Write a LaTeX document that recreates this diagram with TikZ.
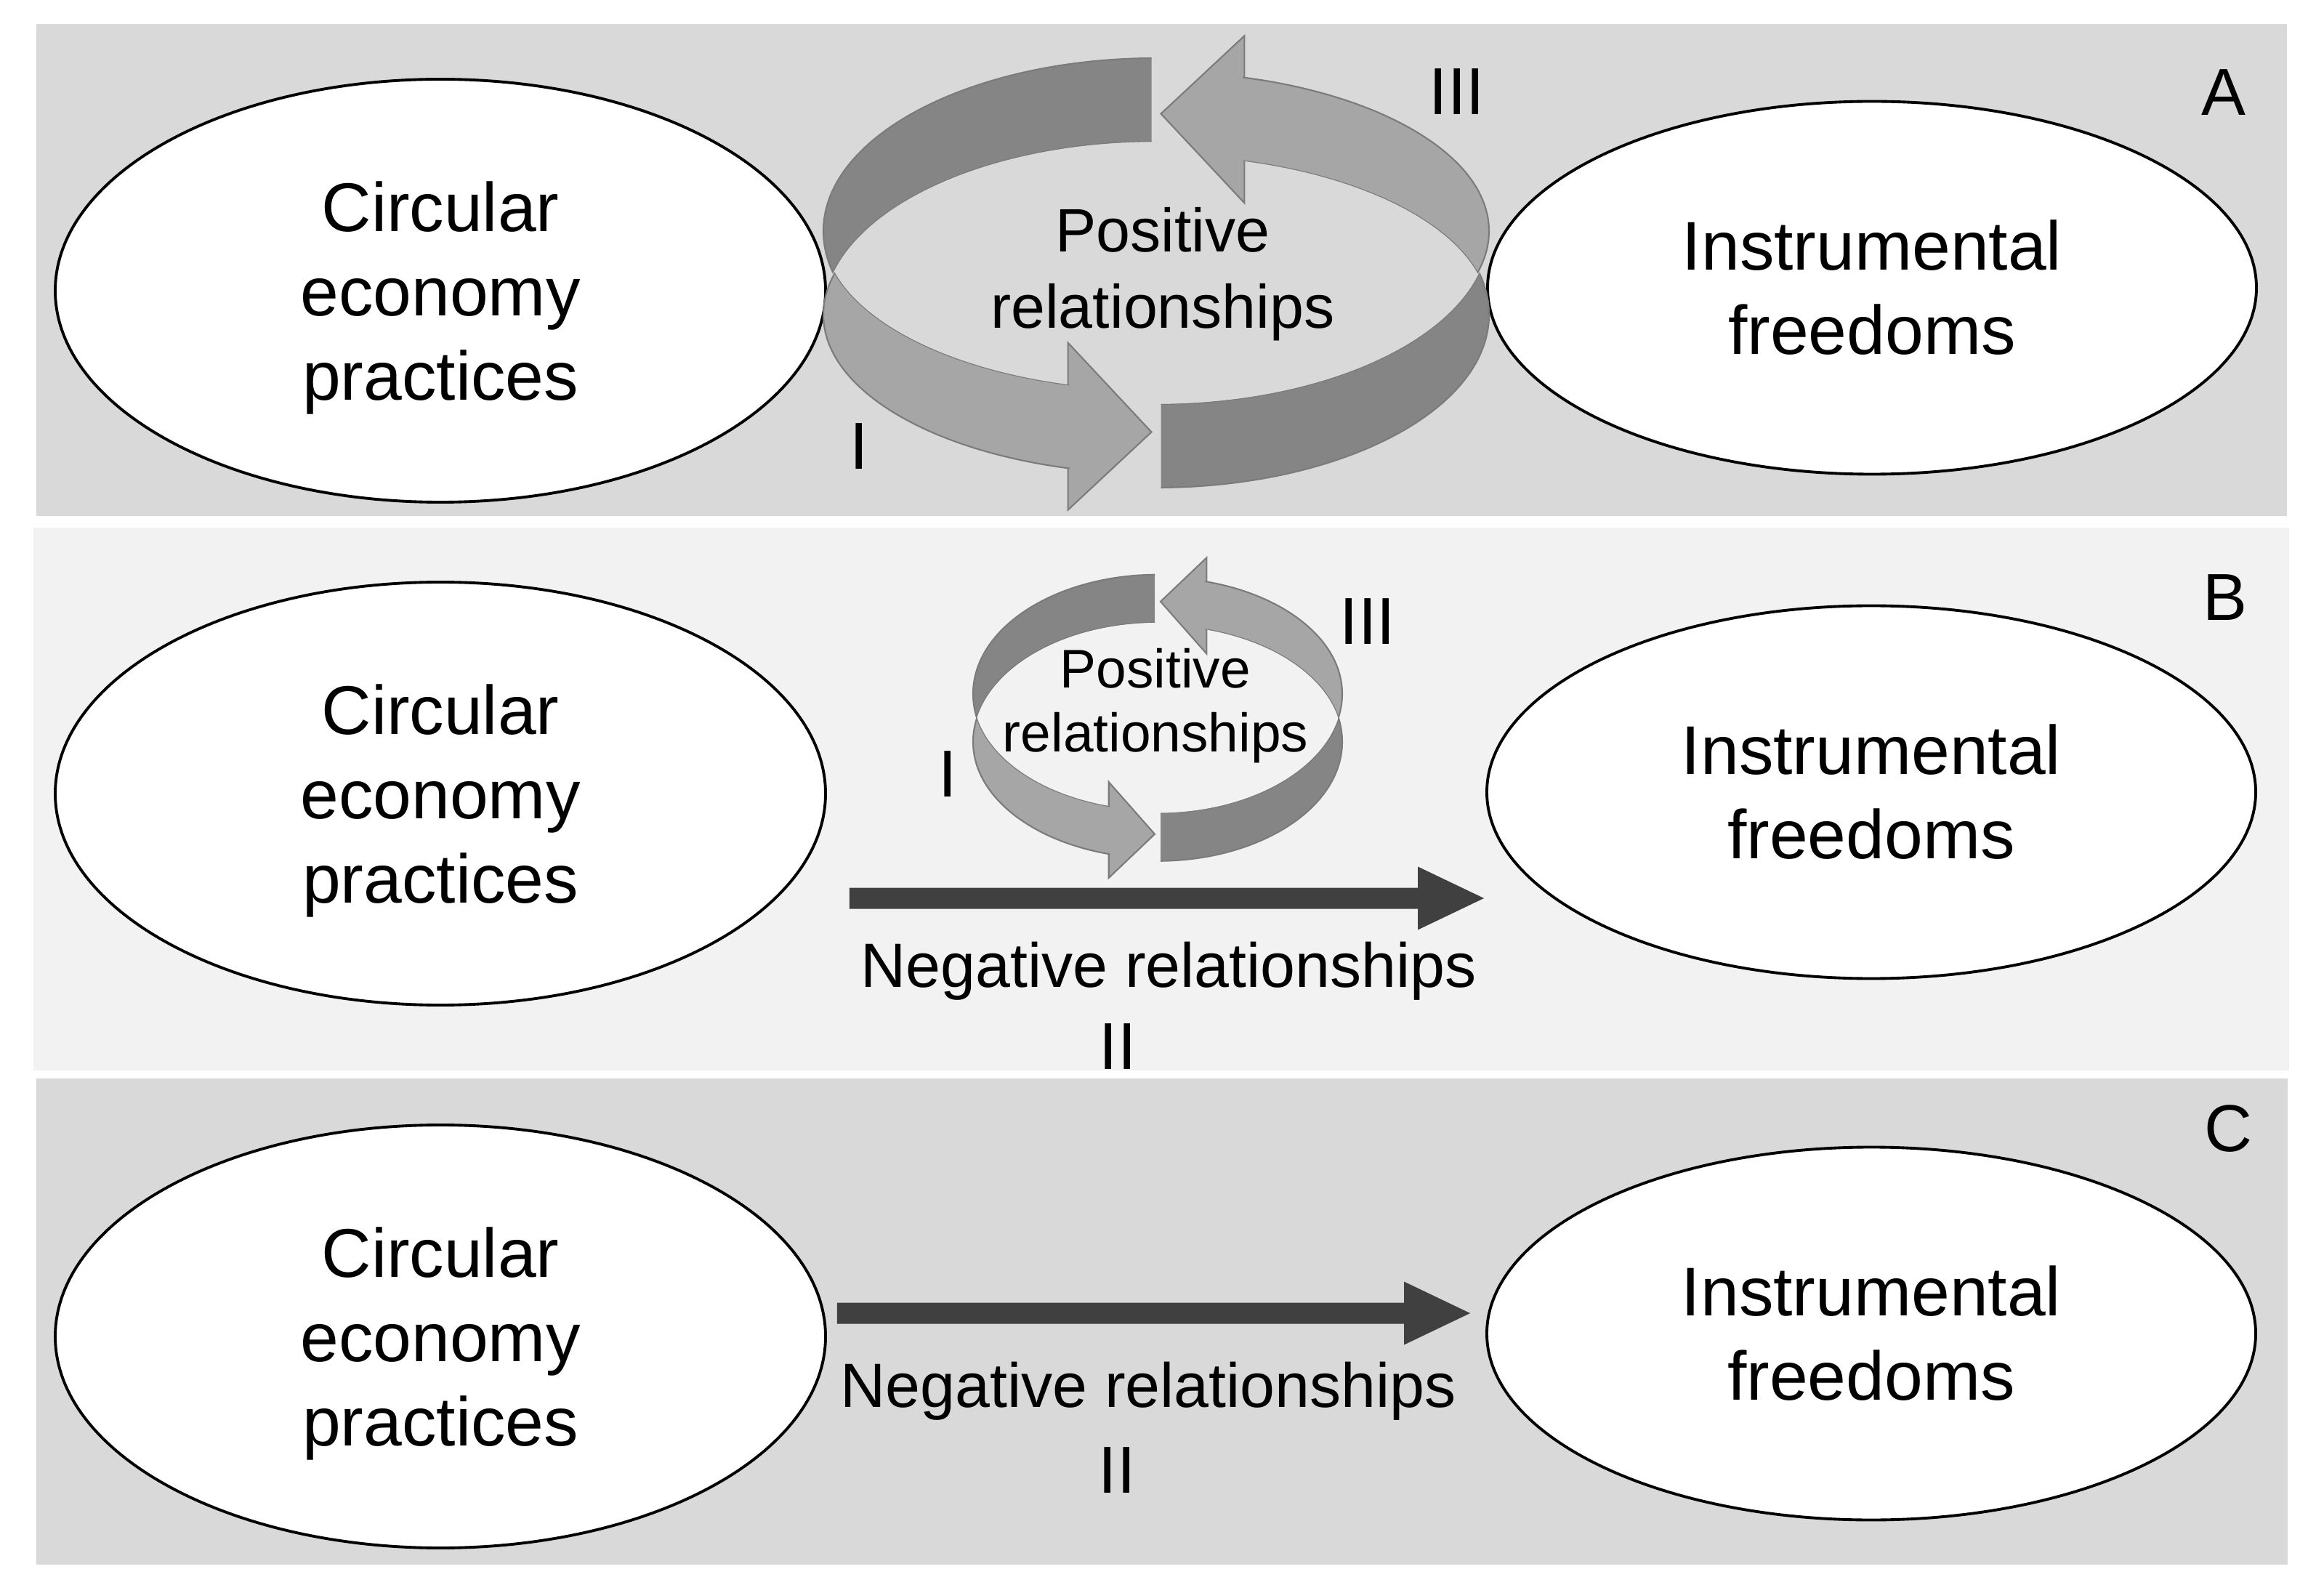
\documentclass[tikz,border=0pt]{standalone}
\usepackage{fontspec}
\setmainfont{Liberation Sans}
\usetikzlibrary{arrows.meta,shapes.geometric}
\definecolor{PanelGray}{HTML}{D9D9D9}
\definecolor{PanelLight}{HTML}{F2F2F2}
\definecolor{LoopDark}{HTML}{858585}
\definecolor{LoopLight}{HTML}{A6A6A6}
\definecolor{LoopEdge}{HTML}{7B7B7B}
\definecolor{NegGray}{HTML}{404040}
\tikzset{
  loopdarkband/.style={fill=LoopDark,draw=LoopEdge,line width=0.6pt},
  looplightband/.style={fill=LoopLight,draw=LoopEdge,line width=0.6pt},
  loopedge/.style={draw=LoopEdge,line width=0.6pt}
}
% ribbon loop: #1 x radius, #2 y radius at the tails, #3 y radius at the heads,
% #4 half height of the ribbon, #5 half gap between the two arrows
\newcommand{\posloop}[5]{%
  \pgfmathsetmacro{\lpbx}{0.265*#1}%
  \pgfmathsetmacro{\lpby}{0.9642*#3}%
  \pgfmathsetmacro{\lphw}{2*#4}%
  \begin{scope}[even odd rule]
    \clip (-#1-0.2,-5) rectangle (-#5,5);
    \clip (-#1-0.2,-5) rectangle (#1+0.2,5)
      (0,-#4) ellipse [x radius=#1,y radius=#2];
    \filldraw[loopdarkband] (0,#4) ellipse [x radius=#1,y radius=#2];
    \clip (0,#4) ellipse [x radius=#1,y radius=#2];
    \draw[loopedge] (0,-#4) ellipse [x radius=#1,y radius=#2];
  \end{scope}
  \begin{scope}[even odd rule]
    \clip (#5,-5) rectangle (#1+0.2,5);
    \clip (-#1-0.2,-5) rectangle (#1+0.2,5)
      (0,#4) ellipse [x radius=#1,y radius=#2];
    \filldraw[loopdarkband] (0,-#4) ellipse [x radius=#1,y radius=#2];
    \clip (0,-#4) ellipse [x radius=#1,y radius=#2];
    \draw[loopedge] (0,#4) ellipse [x radius=#1,y radius=#2];
  \end{scope}
  \filldraw[looplightband,line join=miter] (\lpbx,\lpby+\lphw) -- (#5,#3) -- (\lpbx,\lpby-\lphw) -- cycle;
  \filldraw[looplightband,line join=miter] (-\lpbx,-\lpby+\lphw) -- (-#5,-#3) -- (-\lpbx,-\lpby-\lphw) -- cycle;
  \begin{scope}[even odd rule]
    \clip (\lpbx-0.02,-5) rectangle (#1+0.2,5);
    \clip (-#1-0.2,-5) rectangle (#1+0.2,5)
      (0,-#4) ellipse [x radius=#1,y radius=#3];
    \filldraw[looplightband] (0,#4) ellipse [x radius=#1,y radius=#3];
    \clip (0,#4) ellipse [x radius=#1,y radius=#3];
    \draw[loopedge] (0,-#4) ellipse [x radius=#1,y radius=#3];
  \end{scope}
  \begin{scope}[even odd rule]
    \clip (-#1-0.2,-5) rectangle (-\lpbx+0.02,5);
    \clip (-#1-0.2,-5) rectangle (#1+0.2,5)
      (0,#4) ellipse [x radius=#1,y radius=#3];
    \filldraw[looplightband] (0,-#4) ellipse [x radius=#1,y radius=#3];
    \clip (0,-#4) ellipse [x radius=#1,y radius=#3];
    \draw[loopedge] (0,#4) ellipse [x radius=#1,y radius=#3];
  \end{scope}
}

\begin{document}
\begin{tikzpicture}[
  blob/.style={draw,ellipse,fill=white,line width=1.1pt,inner sep=0pt,align=center,
               font=\fontsize{27}{33}\selectfont},
  leftblob/.style={blob,minimum width=10.6cm,minimum height=5.82cm,text depth=0pt},
  rightblob/.style={blob,minimum width=10.58cm,minimum height=5.13cm},
  numeral/.style={inner sep=0pt,font=\fontsize{26}{30}\selectfont},
  panelmark/.style={numeral},
  negarrow/.style={draw=NegGray,line width=0.29cm,
                   -{Triangle[length=0.91cm,width=0.87cm,line width=0pt]}},
  neglabel/.style={inner sep=0pt,anchor=base,font=\fontsize{24.5}{29}\selectfont}
]
\useasboundingbox (0,0) rectangle (31.98,-21.92);
\fill[white] (0,0) rectangle (31.98,-21.92);
\fill[PanelGray] (0.50,-0.33) rectangle (31.47,-7.10);
\fill[PanelLight] (0.46,-7.26) rectangle (31.50,-14.73);
\fill[PanelGray] (0.50,-14.84) rectangle (31.48,-21.53);

\node[leftblob] (cepA) at (6.06,-4.00) {Circular\\economy\\practices};
\node[rightblob] (ifA) at (25.76,-3.96) {Instrumental\\freedoms};
\node[leftblob] (cepB) at (6.06,-10.92) {Circular\\economy\\practices};
\node[rightblob] (ifB) at (25.75,-10.90) {Instrumental\\freedoms};
\node[leftblob] (cepC) at (6.06,-18.39) {Circular\\economy\\practices};
\node[rightblob] (ifC) at (25.75,-18.35) {Instrumental\\freedoms};

\begin{scope}[shift={(15.91,-3.755)}]
  \posloop{4.58}{2.38}{2.19}{0.575}{0.065}
\end{scope}
\begin{scope}[shift={(15.93,-9.8775)}]
  \posloop{2.54}{1.64}{1.60}{0.33}{0.04}
\end{scope}

\node[align=center,inner sep=0pt,font=\fontsize{24}{29.9}\selectfont] (posA) at (16.00,-3.77) {Positive\\relationships};
\node[align=center,inner sep=0pt,font=\fontsize{21.3}{25}\selectfont] (posB) at (15.90,-9.715) {Positive\\relationships};

\node[numeral] (oneA) at (11.82,-6.14) {I};
\node[numeral] (threeA) at (20.05,-1.26) {III};
\node[numeral] (oneB) at (13.04,-10.65) {I};
\node[numeral] (threeB) at (18.82,-8.55) {III};

\draw[negarrow] ([shift={(0.31,-1.44)}]cepB.east) -- ([shift={(-0.02,-1.46)}]ifB.west);
\draw[negarrow] ([shift={(0.14,0.32)}]cepC.east) -- ([shift={(-0.21,0.28)}]ifC.west);

\node[neglabel] (negB) at (16.08,-13.58) {Negative relationships};
\node[numeral] (twoB) at (15.38,-14.40) {II};
\node[neglabel] (negC) at (15.80,-19.36) {Negative relationships};
\node[numeral] (twoC) at (15.37,-20.23) {II};

\node[panelmark] (markA) at (30.60,-1.27) {A};
\node[panelmark] (markB) at (30.62,-8.22) {B};
\node[panelmark] (markC) at (30.66,-15.53) {C};
\end{tikzpicture}
\end{document}
